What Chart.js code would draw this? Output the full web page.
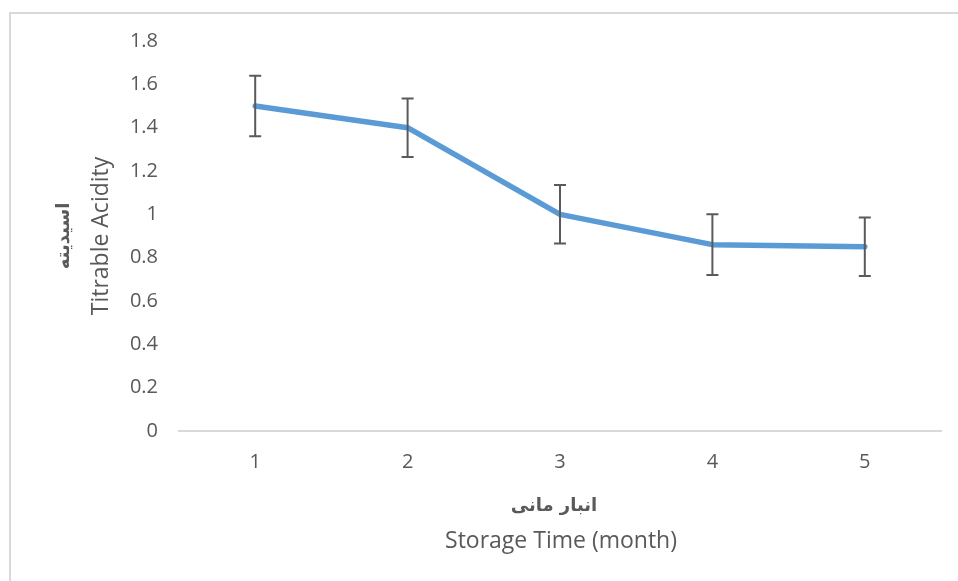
<!DOCTYPE html>
<html><head><meta charset="utf-8">
<script src="https://cdn.jsdelivr.net/npm/chart.js@4"></script>
<style>
html,body{margin:0;padding:0;background:#fff;overflow:hidden;}
#wrap{position:relative;width:958px;height:581px;}
#frame{position:absolute;left:9px;top:12px;width:1000px;height:1000px;border:2px solid #d9d9d9;box-sizing:border-box;}
canvas{position:absolute;left:0;top:0;}
</style></head><body>
<div id="wrap"><div id="frame"></div><canvas id="c" width="958" height="581"></canvas></div>
<script>
const categories = ['1', '2', '3', '4', '5'];
const acidity = [1.5, 1.4, 1.0, 0.86, 0.85];
const errors = [0.14, 0.135, 0.135, 0.14, 0.135];
const yTickLabels = ['0', '0.2', '0.4', '0.6', '0.8', '1', '1.2', '1.4', '1.6', '1.8'];
const xTitleFa = 'انبار مانی';
const xTitleEn = 'Storage Time (month)';
const yTitleFa = 'اسیدیته';
const yTitleEn = 'Titrable Acidity';

const TEXT = '#595959';
const FONT = "'Open Sans', sans-serif";

const errorBars = {
  id: 'errorBars',
  afterDatasetsDraw(chart) {
    const ctx = chart.ctx, xs = chart.scales.x, ys = chart.scales.y;
    ctx.save();
    ctx.strokeStyle = '#5a5a5a';
    ctx.lineWidth = 2;
    acidity.forEach((v, i) => {
      const x = xs.getPixelForValue(i);
      const yt = ys.getPixelForValue(v + errors[i]);
      const yb = ys.getPixelForValue(v - errors[i]);
      ctx.beginPath();
      ctx.moveTo(x, yt); ctx.lineTo(x, yb);
      ctx.moveTo(x - 6, yt); ctx.lineTo(x + 6, yt);
      ctx.moveTo(x - 6, yb); ctx.lineTo(x + 6, yb);
      ctx.stroke();
    });
    ctx.restore();
  }
};

const titles = {
  id: 'titles',
  afterDraw(chart) {
    const ctx = chart.ctx, a = chart.chartArea;
    ctx.save();
    ctx.fillStyle = TEXT;
    ctx.textAlign = 'center';
    ctx.textBaseline = 'middle';
    const cx = (a.left + a.right) / 2;
    ctx.font = "bold 18px 'DejaVu Sans', sans-serif";
    ctx.fillText(xTitleFa, cx - 6, 506);
    ctx.font = "23px " + FONT;
    ctx.fillText(xTitleEn, cx + 1, 541);
    const cy = (a.top + a.bottom) / 2;
    ctx.translate(64, cy);
    ctx.rotate(-Math.PI / 2);
    ctx.font = "bold 18px 'DejaVu Sans', sans-serif";
    ctx.fillText(yTitleFa, 0, 0);
    ctx.restore();
    ctx.save();
    ctx.fillStyle = TEXT;
    ctx.textAlign = 'center';
    ctx.textBaseline = 'middle';
    ctx.translate(101, cy);
    ctx.rotate(-Math.PI / 2);
    ctx.font = "23px " + FONT;
    ctx.fillText(yTitleEn, 0, 0);
    ctx.restore();
  }
};

new Chart(document.getElementById('c'), {
  type: 'line',
  data: {
    labels: categories,
    datasets: [{
      data: acidity,
      borderColor: '#5b9bd5',
      borderWidth: 5.5,
      pointRadius: 0,
      pointHoverRadius: 0,
      tension: 0,
      fill: false,
      borderCapStyle: 'round',
      borderJoinStyle: 'round'
    }]
  },
  options: {
    responsive: false,
    animation: false,
    devicePixelRatio: 1,
    layout: { padding: { left: 0, right: 17, top: 41, bottom: 0 } },
    plugins: { legend: { display: false }, tooltip: { enabled: false } },
    scales: {
      x: {
        offset: true,
        grid: { display: false, drawTicks: false },
        border: { display: true, color: '#d9d9d9', width: 2 },
        ticks: { color: TEXT, font: { family: FONT, size: 20 }, padding: 19 },
        afterFit(s) { s.height = 150; }
      },
      y: {
        min: 0, max: 1.8,
        grid: { display: false, drawTicks: false },
        border: { display: false },
        ticks: {
          stepSize: 0.2, color: TEXT, font: { family: FONT, size: 20 }, padding: 21,
          callback: (v, i) => yTickLabels[i]
        },
        afterFit(s) { s.width = 179; }
      }
    }
  },
  plugins: [errorBars, titles]
});
</script>
</body></html>
